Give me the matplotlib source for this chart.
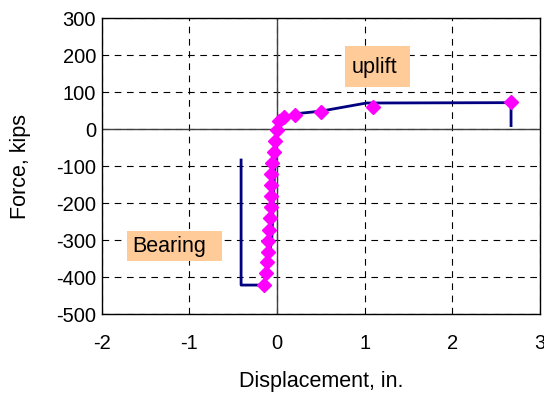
import matplotlib
matplotlib.use("Agg")
import matplotlib.pyplot as plt
from matplotlib.patches import Rectangle

plt.rcParams['font.family'] = ['Liberation Sans', 'DejaVu Sans']
plt.rcParams['axes.unicode_minus'] = False

# Test data (markers)
test_disp = [-0.144, -0.128, -0.117, -0.106, -0.099, -0.091, -0.083, -0.072, -0.072,
             -0.068, -0.065, -0.053, -0.038, -0.023, -0.003, 0.023, 0.083, 0.208,
             0.497, 1.09, 2.67]
test_force = [-421, -389, -360, -331, -301, -272, -241, -209, -180,
              -151, -121, -90, -61, -31, -2, 23, 34, 39,
              48, 61, 75]

# Model curve (line)
model_disp = [-0.41, -0.41, -0.15, -0.06, -0.035, 0.0, 0.05, 0.10, 0.21, 0.50, 1.02, 2.67, 2.67]
model_force = [-83, -421, -421, -300, -150, -5, 25, 34, 42, 49, 71, 72, 10]

x_ticks = [-2, -1, 0, 1, 2, 3]
y_ticks = [-500, -400, -300, -200, -100, 0, 100, 200, 300]

fig = plt.figure(figsize=(5.44, 3.95), dpi=100)
ax = fig.add_axes([0.187, 0.2043, 0.8056, 0.7494])

ax.set_xlim(-2, 3)
ax.set_ylim(-500, 300)
ax.set_xticks(x_ticks)
ax.set_yticks(y_ticks)
ax.grid(True, color='black', linestyle=(0, (6, 5)), linewidth=0.8)
ax.set_axisbelow(True)
ax.axhline(0, color='#404040', linewidth=1, zorder=1)
ax.axvline(0, color='#404040', linewidth=1, zorder=1)

ax.plot(model_disp, model_force, color='#000080', linewidth=2, zorder=3)
ax.plot(test_disp, test_force, linestyle='none', marker='D', markersize=7.5,
        color='#FF00FF', zorder=4)

# label boxes
ax.add_patch(Rectangle((0.773, 115), 0.746, 110, facecolor='#FFCC99',
                       edgecolor='none', zorder=2))
ax.text(0.85, 168, "uplift", fontsize=15.5, va='center', ha='left', zorder=3)
ax.add_patch(Rectangle((-1.716, -355), 1.088, 80, facecolor='#FFCC99',
                       edgecolor='none', zorder=2))
ax.text(-1.65, -317, "Bearing", fontsize=15.5, va='center', ha='left', zorder=3)

for s in ax.spines.values():
    s.set_color('black')
    s.set_linewidth(1)

ax.tick_params(length=0, labelsize=14.5)
ax.tick_params(axis='x', pad=14)
ax.tick_params(axis='y', pad=4)
ax.set_xlabel("Displacement, in.", fontsize=15.5, labelpad=13)
ax.set_ylabel("Force, kips", fontsize=15.5, labelpad=18)

fig.savefig("out.png", dpi=100)
